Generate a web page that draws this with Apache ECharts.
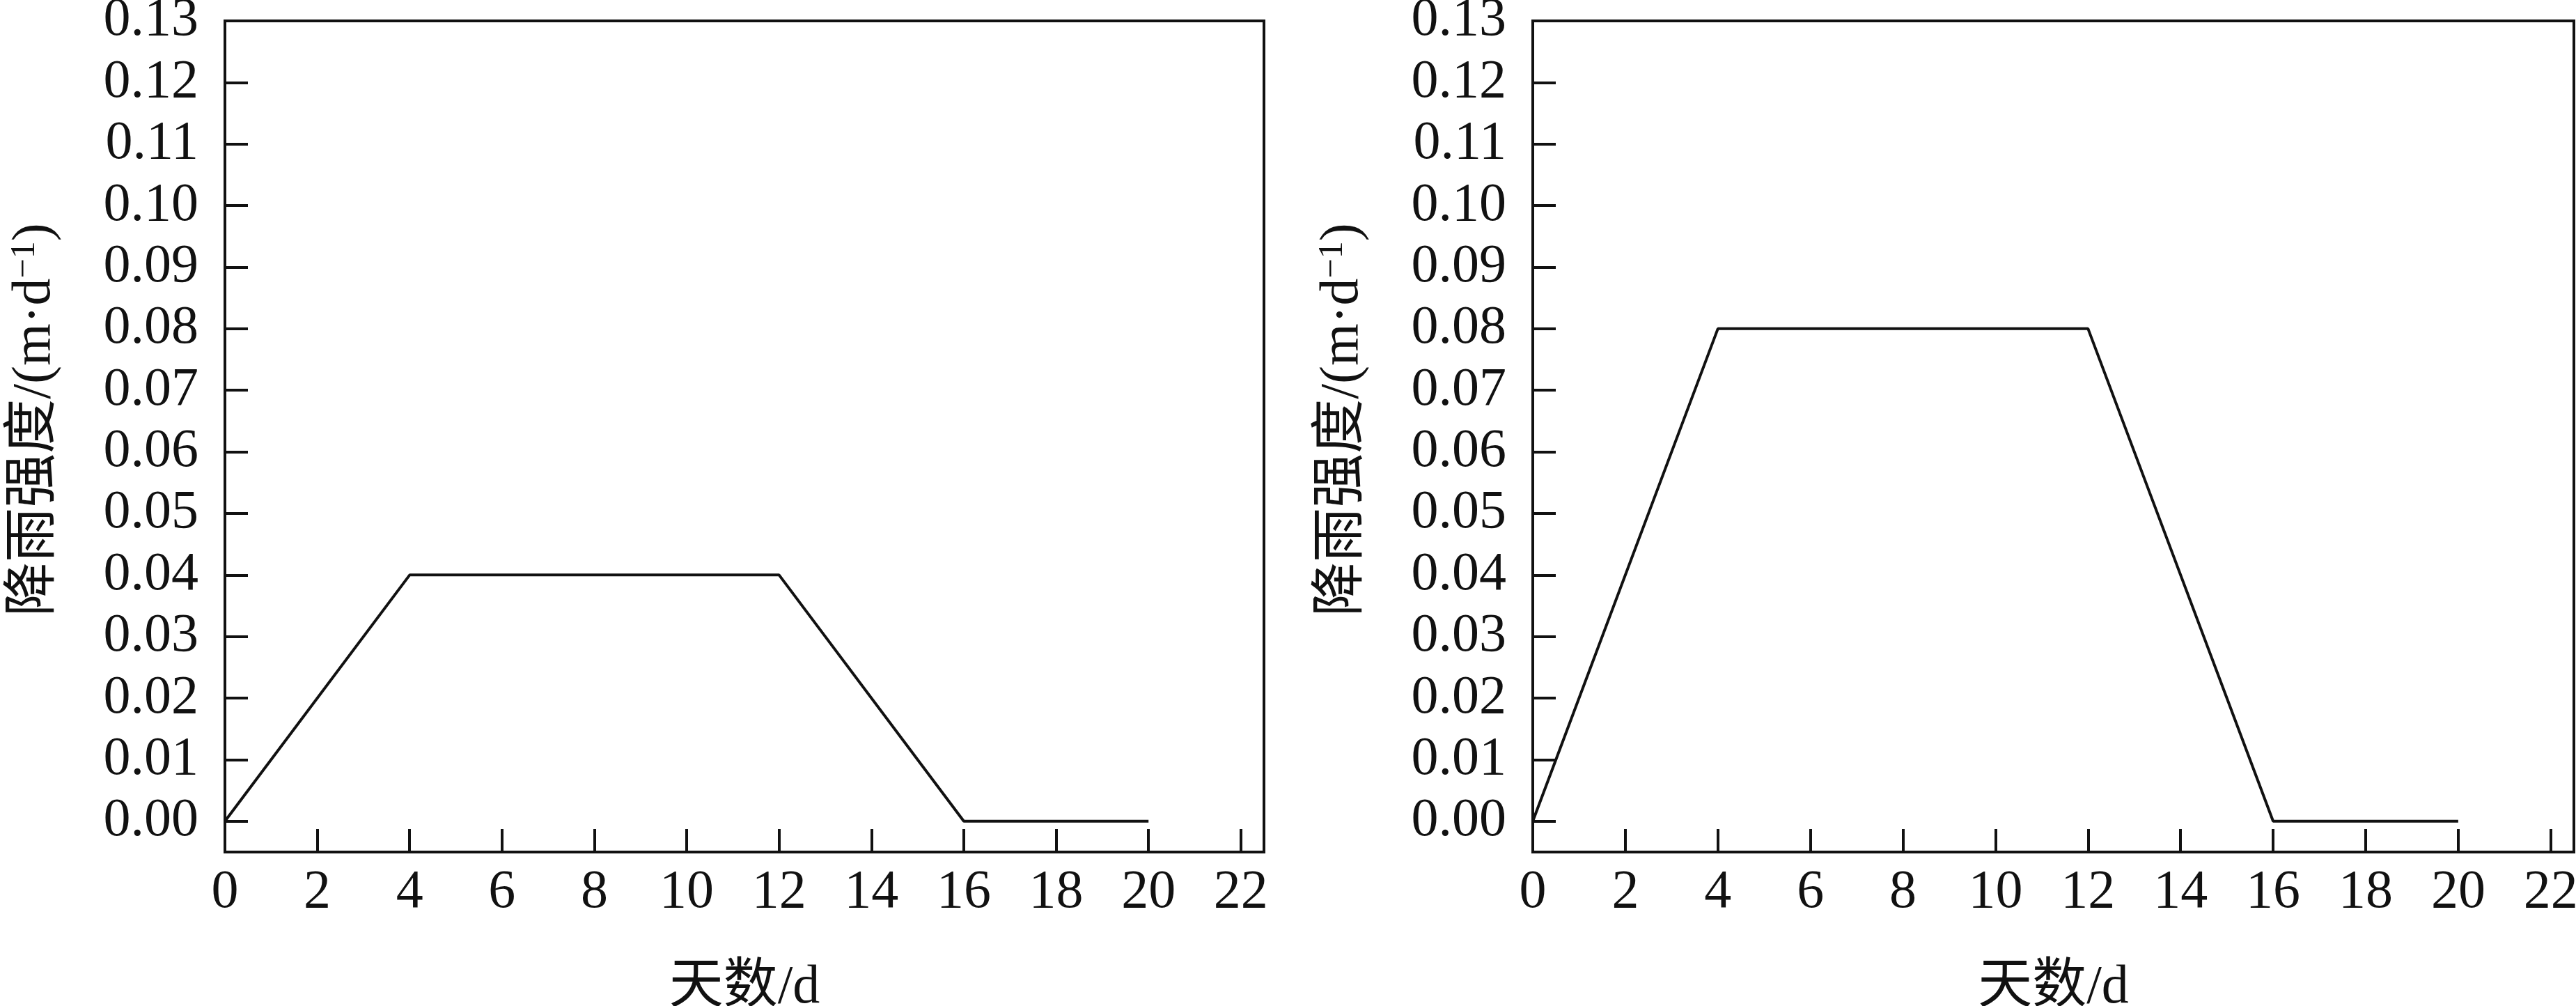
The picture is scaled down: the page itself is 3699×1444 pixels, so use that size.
<!DOCTYPE html>
<html><head><meta charset="utf-8">
<script src="https://cdn.jsdelivr.net/npm/echarts@6/dist/echarts.min.js"></script>
<style>html,body{margin:0;padding:0;background:#fff}#c{width:3699px;height:1444px}</style>
</head><body><div id="c"></div>
<script>
const days = [0, 4, 12, 16, 20];
const rainA = [0, 0.04, 0.04, 0, 0];
const rainB = [0, 0.08, 0.08, 0, 0];
const xTicks = [0, 2, 4, 6, 8, 10, 12, 14, 16, 18, 20, 22];
const yTicks = [0, 0.01, 0.02, 0.03, 0.04, 0.05, 0.06, 0.07, 0.08, 0.09, 0.10, 0.11, 0.12, 0.13];
const xName = '天数/d';
const yNameRich = '{a|降雨强度/(m·d}{s|−1}{a|)}';

const FONT = '"Liberation Serif", "Noto Sans CJK SC", serif';
const INK = '#111';
const chart = echarts.init(document.getElementById('c'));

function pairs(xs, ys) { return xs.map((x, i) => [x, ys[i]]); }

function xAx(gi) {
  return {
    gridIndex: gi, type: 'value', min: 0, max: 22.5,
    name: xName, nameLocation: 'middle', nameGap: 157,
    nameTextStyle: { fontFamily: FONT, fontSize: 78, color: INK },
    axisLine: { onZero: false, lineStyle: { color: INK, width: 4 } },
    axisTick: { inside: true, length: 33, customValues: xTicks, lineStyle: { color: INK, width: 4 } },
    axisLabel: { customValues: xTicks, margin: 20, fontFamily: FONT, fontSize: 78, color: INK },
    splitLine: { show: false }
  };
}
function yAx(gi) {
  return {
    gridIndex: gi, type: 'value', min: -0.005, max: 0.13,
    name: yNameRich, nameLocation: 'middle', nameGap: 232,
    nameTextStyle: {
      fontFamily: FONT, fontSize: 78, color: INK, padding: [0, 0, 0, 48],
      rich: {
        a: { fontFamily: FONT, fontSize: 78, color: INK },
        s: { fontFamily: FONT, fontSize: 50, color: INK, verticalAlign: 'top', padding: [0, 0, 30, 0] }
      }
    },
    axisLine: { onZero: false, lineStyle: { color: INK, width: 4 } },
    axisTick: { inside: true, length: 33, customValues: yTicks, lineStyle: { color: INK, width: 4 } },
    axisLabel: { customValues: yTicks, margin: 38, fontFamily: FONT, fontSize: 78, color: INK,
      formatter: v => v.toFixed(2) },
    splitLine: { show: false }
  };
}

chart.setOption({
  animation: false,
  backgroundColor: '#fff',
  grid: [
    { left: 323, width: 1492, top: 30, height: 1193, show: true, borderColor: INK, borderWidth: 4,
      containLabel: false, outerBoundsMode: 'none' },
    { left: 2201, width: 1495, top: 30, height: 1193, show: true, borderColor: INK, borderWidth: 4,
      containLabel: false, outerBoundsMode: 'none' }
  ],
  xAxis: [xAx(0), xAx(1)],
  yAxis: [yAx(0), yAx(1)],
  series: [
    { type: 'line', xAxisIndex: 0, yAxisIndex: 0, data: pairs(days, rainA), showSymbol: false,
      lineStyle: { color: INK, width: 4 } },
    { type: 'line', xAxisIndex: 1, yAxisIndex: 1, data: pairs(days, rainB), showSymbol: false,
      lineStyle: { color: INK, width: 4 } }
  ]
});
</script></body></html>
